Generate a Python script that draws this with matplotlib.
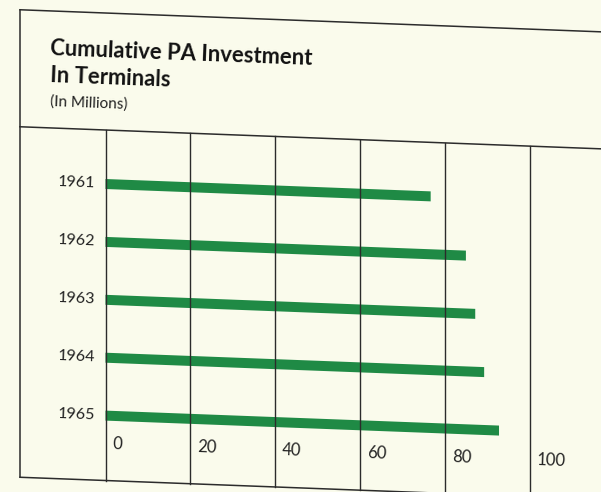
import numpy as np
import matplotlib
matplotlib.use("Agg")
import matplotlib.pyplot as plt
from matplotlib.transforms import Affine2D

# cumulative investment per year, millions of dollars
years = ["1961", "1962", "1963", "1964", "1965"]
invest = [76.6, 84.9, 87.1, 89.2, 92.7]
ticks = [0, 20, 40, 60, 80, 100]

paper = "#fafbec"
ink = "#2b2b2b"
green = "#1f8a45"
font = "Lato"

slope = 0.038                      # page sits slightly askew
tilt = -np.degrees(np.arctan(slope))
shear = Affine2D().skew(0, np.arctan(-slope))

fig = plt.figure(figsize=(6.01, 4.92), dpi=100, facecolor=paper)

# page layer in pixel units (y down)
page = fig.add_axes([0, 0, 1, 1])
page.set_xlim(0, 601)
page.set_ylim(492, 0)
page.axis("off")

top, sep, bottom, left = 9, 126, 476.5, 20
page.plot([left, 640], [top, top], color=ink, lw=1.1)
page.plot([left, 640], [sep, sep], color=ink, lw=1.1)
page.plot([left, 640], [bottom, bottom], color=ink, lw=1.1)
page.plot([left, left], [top, bottom], color=ink, lw=1.1)

page.text(50, 53, "Cumulative PA Investment", fontsize=15.8, fontweight="bold",
          family=font, color="#111111", rotation=tilt, rotation_mode="anchor")
page.text(50, 80, "In Terminals", fontsize=15.8, fontweight="bold",
          family=font, color="#111111", rotation=tilt, rotation_mode="anchor")
page.text(50, 104, "(In Millions)", fontsize=11, family=font,
          color="#222222", rotation=tilt, rotation_mode="anchor")

# chart area
px = 4.245
x0 = 105.5
gap = 57.9
ax = fig.add_axes([left / 601, (492 - bottom) / 492, 581 / 601, (bottom - sep) / 492])
ax.set_xlim((left - x0) / px, (601 - x0) / px)
ax.set_ylim((bottom - 180) / gap, -(180 - sep) / gap)
ax.axis("off")

pos = np.arange(len(years))
ax.barh(pos, invest, height=10 / gap, left=0, color=green, edgecolor="none")
for t in ticks:
    ax.axvline(t, color=ink, lw=1.0)
for p, y in zip(pos, years):
    ax.text(-2.5, p, y, ha="right", va="center", fontsize=11.5, family=font,
            color="#222222", rotation=tilt, rotation_mode="anchor")
for t in ticks:
    ax.text(t + 7 / px, 4.48, str(t), ha="left", va="center", fontsize=12,
            family=font, color="#222222", rotation=tilt, rotation_mode="anchor")

for a in (page, ax):
    for art in list(a.lines) + list(a.texts):
        art.set_transform(art.get_transform() + shear)
        art.set_clip_on(False)
    for art in a.patches:
        art.set_transform(a.transData + shear)
        art.set_clip_on(False)

fig.savefig("out.png", dpi=100, facecolor=paper)
